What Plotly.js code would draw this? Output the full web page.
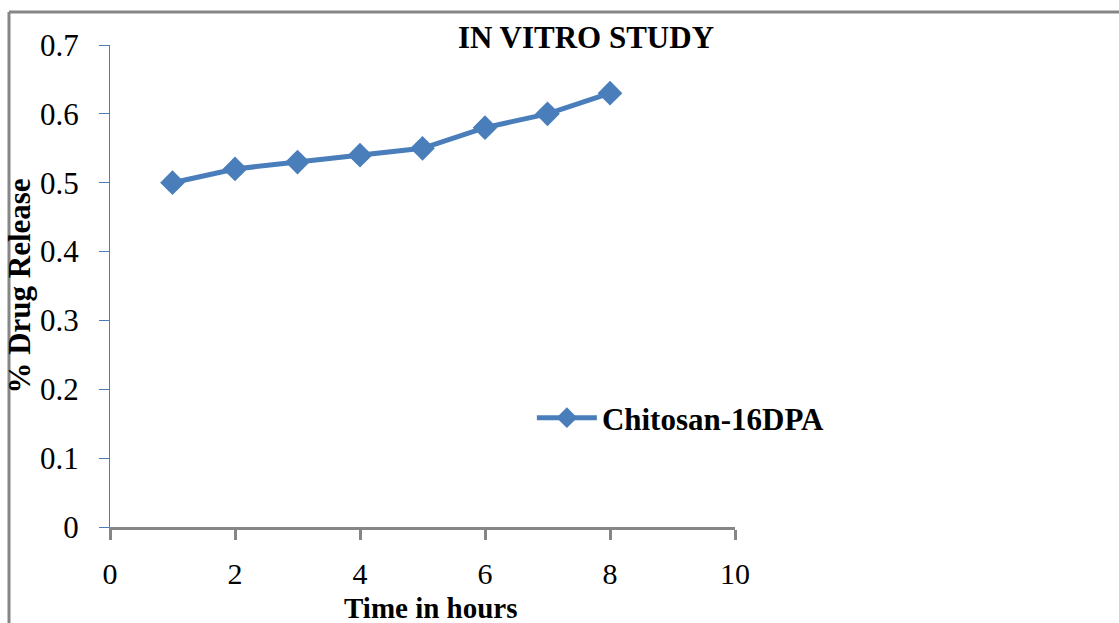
<!DOCTYPE html>
<html>
<head>
<meta charset="utf-8">
<script src="https://cdn.plot.ly/plotly-3.0.1.min.js"></script>
<style>html,body{margin:0;padding:0;background:#fff;}#chart{width:1119px;height:623px;}</style>
</head>
<body>
<div id="chart"></div>
<script>
const timeHours = [1, 2, 3, 4, 5, 6, 7, 8];
const drugRelease = [0.50, 0.52, 0.53, 0.54, 0.55, 0.58, 0.60, 0.63];
const seriesName = "Chitosan-16DPA";
const xTicks = [0, 2, 4, 6, 8, 10];
const yTicks = [0, 0.1, 0.2, 0.3, 0.4, 0.5, 0.6, 0.7];
const yTickText = ["0", "0.1", "0.2", "0.3", "0.4", "0.5", "0.6", "0.7"];
const xTitle = "Time in hours";
const yTitle = "% Drug Release";
const chartTitle = "IN VITRO STUDY";

const serif = "Liberation Serif";
const blue = "#4a7ebb";
const gray = "#868686";

const trace = {
  x: timeHours,
  y: drugRelease,
  name: seriesName,
  type: "scatter",
  mode: "lines+markers",
  line: {color: blue, width: 5},
  marker: {symbol: "diamond", size: 19, color: blue}
};

const layout = {
  width: 1119,
  height: 623,
  margin: {l: 110, r: 384, t: 45, b: 96},
  paper_bgcolor: "#fff",
  plot_bgcolor: "#fff",
  showlegend: true,
  font: {family: serif, color: "#000"},
  title: {
    text: "<b>" + chartTitle + "</b>",
    font: {family: serif, size: 31, color: "#000"},
    x: 586 / 1119, xanchor: "center", xref: "container",
    y: 1 - 37 / 623, yanchor: "middle", yref: "container"
  },
  xaxis: {
    range: [0, 10],
    tickvals: xTicks,
    ticktext: xTicks.map(String),
    showgrid: false,
    zeroline: false,
    showline: true,
    linecolor: gray,
    linewidth: 3,
    ticks: "outside",
    ticklen: 10,
    tickwidth: 3,
    tickcolor: gray,
    ticklabelstandoff: 8,
    tickfont: {family: serif, size: 30, color: "#000"}
  },
  yaxis: {
    range: [0, 0.7],
    tickvals: yTicks,
    ticktext: yTickText,
    showgrid: false,
    zeroline: false,
    showline: true,
    linecolor: blue,
    linewidth: 1,
    ticks: "outside",
    ticklen: 10,
    tickwidth: 1,
    tickcolor: blue,
    ticklabelstandoff: 14,
    tickfont: {family: serif, size: 31, color: "#000"},
    title: {text: "<b>" + yTitle + "</b>", font: {family: serif, size: 31, color: "#000"}, standoff: 0}
  },
  annotations: [
    {text: "<b>" + xTitle + "</b>", xref: "paper", yref: "paper", x: 0.5136, y: -0.168,
     xanchor: "center", yanchor: "middle", showarrow: false,
     font: {family: serif, size: 29, color: "#000"}}
  ],
  legend: {
    x: 0.675, xanchor: "left",
    y: 0.226, yanchor: "middle",
    bgcolor: "rgba(0,0,0,0)",
    font: {family: serif, size: 31, color: "#000", weight: "bold"},
    itemwidth: 60
  },
  shapes: [
    {type: "line", xref: "paper", yref: "paper", x0: -0.1616, x1: 1.62, y0: 1.0685, y1: 1.0685, line: {color: gray, width: 3}},
    {type: "line", xref: "paper", yref: "paper", x0: -0.1616, x1: -0.1616, y0: 1.0685, y1: -0.25, line: {color: gray, width: 3}}
  ]
};

Plotly.newPlot("chart", [trace], layout, {displayModeBar: false, staticPlot: true});
</script>
</body>
</html>
